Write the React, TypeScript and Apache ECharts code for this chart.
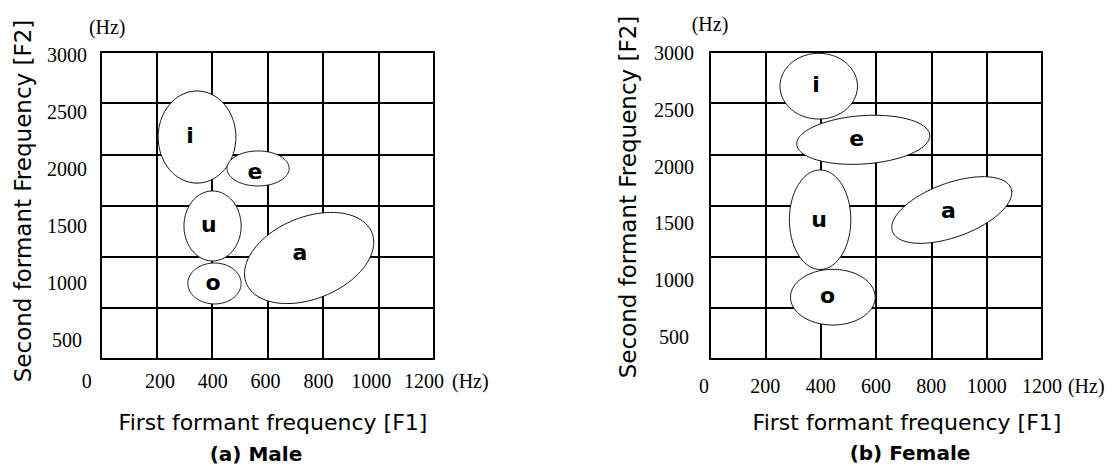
import React, { useEffect, useRef } from 'react';
import * as echarts from 'echarts';

// ---------- data ----------
const vowels = ['i', 'e', 'u', 'o', 'a'];

// (a) Male: centre of each vowel region (F1, F2 in Hz), half spreads (Hz), tilt (deg)
const maleF1 = [346, 566, 402, 409, 750];
const maleF2 = [2169, 1862, 1300, 738, 987];
const maleF1Spread = [140, 112, 103, 96, 244];
const maleF2Spread = [450, 171, 342, 200, 399];
const maleTilt = [0, 0, 0, 0, 22];
const maleLabelF1 = [321, 555, 389, 404, 717];
const maleLabelF2 = [2180, 1837, 1319, 752, 1045];

// (b) Female
const femaleF1 = [393, 554, 398, 444, 874];
const femaleF2 = [2666, 2142, 1361, 604, 1456];
const femaleF1Spread = [140, 241, 111, 153, 228];
const femaleF2Spread = [321, 236, 486, 272, 264];
const femaleTilt = [0, 4, 0, 0, 20];
const femaleLabelF1 = [383, 530, 394, 425, 862];
const femaleLabelF2 = [2684, 2157, 1360, 616, 1456];

const f1TickLabels = [0, 200, 400, 600, 800, 1000, 1200];
const f2TickLabels = [500, 1000, 1500, 2000, 2500, 3000];

const panelTitles = ['(a) Male', '(b) Female'];
const xTitle = 'First formant frequency [F1]';
const yTitle = 'Second formant Frequency [F2]';
const unit = '(Hz)';

// ---------- styles ----------
const serif = '"Liberation Serif", "Times New Roman", serif';
const sans = '"DejaVu Sans", Verdana, sans-serif';

function ellipseSeries(
  f1: number[], f2: number[], s1: number[], s2: number[], tilt: number[],
  lf1: number[], lf2: number[], axisIndex: number
) {
  return {
    type: 'custom',
    coordinateSystem: 'cartesian2d',
    xAxisIndex: axisIndex,
    yAxisIndex: axisIndex,
    silent: true,
    data: vowels.map((v, i) => ({ name: v, value: [f1[i], f2[i], s1[i], s2[i], tilt[i], lf1[i], lf2[i]] })),
    encode: { x: 0, y: 1 },
    renderItem: (params: any, api: any) => {
      const c = api.coord([api.value(0), api.value(1)]);
      const s = api.size([api.value(2), api.value(3)]);
      const a = (api.value(4) * Math.PI) / 180;
      const pts: number[][] = [];
      const N = 120;
      for (let k = 0; k < N; k++) {
        const t = (k / N) * Math.PI * 2;
        const x = s[0] * Math.cos(t);
        const y = s[1] * Math.sin(t);
        pts.push([c[0] + x * Math.cos(a) + y * Math.sin(a), c[1] - x * Math.sin(a) + y * Math.cos(a)]);
      }
      const lp = api.coord([api.value(5), api.value(6)]);
      return {
        type: 'group',
        children: [
          { type: 'polygon', shape: { points: pts }, style: { fill: '#fff', stroke: '#111', lineWidth: 1 } },
          {
            type: 'text', x: lp[0], y: lp[1],
            style: { text: vowels[params.dataIndex], fill: '#000', font: 'bold 22px "DejaVu Sans"', align: 'center', verticalAlign: 'middle' },
          },
        ],
      };
    },
  };
}

function mainX(gridIndex: number, padLeft: number) {
  return {
    type: 'value', gridIndex, min: 0, max: 1200, interval: 200, position: 'bottom',
    axisLine: { show: false }, axisTick: { show: false }, axisLabel: { show: false },
    splitLine: { show: true, lineStyle: { color: '#000', width: 2 } },
    name: xTitle, nameLocation: 'middle', nameGap: 52,
    nameTextStyle: { fontFamily: sans, fontSize: 22, color: '#000', padding: [0, 0, 0, padLeft] },
  };
}
function mainY(gridIndex: number, gap: number, padLeft: number) {
  return {
    type: 'value', gridIndex, min: 0, max: 3000, interval: 500, position: 'left',
    axisLine: { show: false }, axisTick: { show: false }, axisLabel: { show: false },
    splitLine: { show: true, lineStyle: { color: '#000', width: 2 } },
    name: yTitle, nameLocation: 'middle', nameGap: gap,
    nameTextStyle: { fontFamily: sans, fontSize: 23, color: '#000', padding: [0, 0, 0, padLeft] },
  };
}
function labelX(gridIndex: number, min: number, max: number, offset: number, zeroPad: number, gap: number) {
  return {
    type: 'value', gridIndex, min, max, position: 'bottom', offset,
    axisLine: { show: false }, axisTick: { show: false }, splitLine: { show: false },
    axisLabel: {
      show: true, customValues: f1TickLabels, margin: 0, verticalAlign: 'middle',
      fontFamily: serif, fontSize: 20, color: '#000',
      formatter: (v: number) => (v === 0 ? '{z|0}' : String(v)),
      rich: { z: { fontFamily: serif, fontSize: 20, color: '#000', padding: [0, zeroPad, 0, 0] } },
    },
    name: unit, nameLocation: 'end', nameGap: gap,
    nameTextStyle: { fontFamily: serif, fontSize: 20, color: '#000', verticalAlign: 'middle' },
  };
}
function labelY(gridIndex: number, min: number, max: number, offset: number, gap: number) {
  return {
    type: 'value', gridIndex, min, max, position: 'left', offset,
    axisLine: { show: false }, axisTick: { show: false }, splitLine: { show: false },
    axisLabel: {
      show: true, customValues: f2TickLabels, margin: 0, align: 'center',
      fontFamily: serif, fontSize: 20, color: '#000',
      formatter: (v: number) => String(v),
    },
    name: unit, nameLocation: 'end', nameGap: gap,
    nameTextStyle: { fontFamily: serif, fontSize: 20, color: '#000', align: 'center' },
  };
}

export default function App() {
  const ref = useRef<HTMLDivElement>(null);
  useEffect(() => {
    if (!ref.current) return;
    const chart = echarts.init(ref.current, undefined, { renderer: 'svg' });
    chart.setOption({
      animation: false,
      backgroundColor: '#fff',
      title: [
        { text: panelTitles[0], left: 256, top: 444, textAlign: 'center', padding: 0,
          textStyle: { fontFamily: sans, fontSize: 20, fontWeight: 'bold', color: '#000', lineHeight: 20 } },
        { text: panelTitles[1], left: 910, top: 443, textAlign: 'center', padding: 0,
          textStyle: { fontFamily: sans, fontSize: 20, fontWeight: 'bold', color: '#000', lineHeight: 20 } },
      ],
      grid: [
        { left: 101, top: 52, width: 333, height: 307, show: true, borderColor: '#000', borderWidth: 2 },
        { left: 710, top: 52, width: 332, height: 307, show: true, borderColor: '#000', borderWidth: 2 },
      ],
      xAxis: [
        mainX(0, 11),
        labelX(0, -23.5, 1238, 22, 41, 18),
        mainX(1, 62),
        labelX(1, 0, 1200, 27, 12, 20),
      ],
      yAxis: [
        mainY(0, 67, 9),
        labelY(0, 333, 3026, 34, 15),
        mainY(1, 71, 17),
        labelY(1, 306, 3009, 36, 18),
      ],
      series: [
        ellipseSeries(maleF1, maleF2, maleF1Spread, maleF2Spread, maleTilt, maleLabelF1, maleLabelF2, 0),
        ellipseSeries(femaleF1, femaleF2, femaleF1Spread, femaleF2Spread, femaleTilt, femaleLabelF1, femaleLabelF2, 2),
      ],
    });
    return () => chart.dispose();
  }, []);
  return <div ref={ref} style={{ position: 'fixed', left: 0, top: 0, width: 1115, height: 466 }} />;
}
